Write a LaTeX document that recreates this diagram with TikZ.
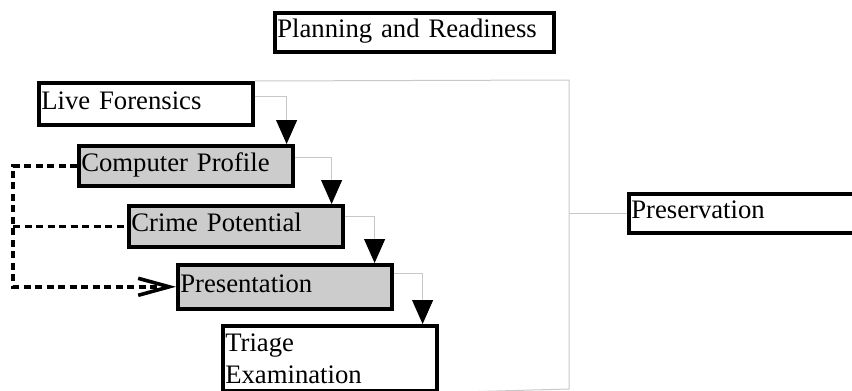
\documentclass[tikz,border=0pt]{standalone}
\usepackage{fontspec}
\setmainfont{Liberation Serif}
\usetikzlibrary{arrows.meta}
\definecolor{boxgray}{RGB}{204,204,204}
\definecolor{linegray}{RGB}{200,200,200}
\begin{document}
\begin{tikzpicture}[x=1pt,y=-1pt,
  boxbase/.style={draw, line width=3.6pt, anchor=north west, inner xsep=2.5pt, inner ysep=0pt,
    text width=209pt, align=left, minimum height=#1,
    font=\fontsize{26.7pt}{32pt}\selectfont},
  oneline/.style={boxbase=#1, text height=19pt, text depth=8pt},
  shaded/.style={fill=boxgray},
  conn/.style={draw=linegray, line width=1pt},
  flow/.style={conn, -{Triangle[width=21pt,length=24pt,color=black]}},
  dashline/.style={draw=black, line width=3.6pt, dash pattern=on 7pt off 4.5pt}
]
\useasboundingbox (0,0) rectangle (852,391);

\node[oneline=39pt, text width=274pt] (PR) at (273,11) {Planning and Readiness};
\node[oneline=42pt] (LF) at (37,81) {Live Forensics};
\node[oneline=40pt, shaded] (CP) at (77,144) {Computer Profile};
\node[oneline=41pt, shaded] (CrP) at (127,204) {Crime Potential};
\node[oneline=44pt, shaded] (Pr) at (176,263) {Presentation};
\node[boxbase=65pt] (TE) at (221,324) {Triage\\Examination};
\node[oneline=39pt, text width=240pt] (Pres) at (627,192) {Preservation};

% flow connectors
\draw[flow] ([yshift=-15pt]LF.north east) -| ([xshift=-8pt]CP.north east);
\draw[flow] ([yshift=-13pt]CP.north east) -| ([xshift=-13pt]CrP.north east);
\draw[flow] ([yshift=-12pt]CrP.north east) -| ([xshift=-19pt]Pr.north east);
\draw[flow] ([yshift=-10pt]Pr.north east) -| ([xshift=-16pt]TE.north east);

% bracket to Preservation
\coordinate (bt) at (569,80);
\coordinate (bb) at (569,389);
\draw[conn] (LF.north east) -- (bt) -- (bb) -- (TE.south east);
\draw[conn] (bt |- Pres.west) -- (Pres.west);

% dashed feedback
\coordinate (dl) at (13,0);
\draw[dashline, -{Straight Barb[length=31pt,width=17pt,line width=3.6pt]}]
  (CP.west) -| (dl |- Pr.west) -- (Pr.west);
\draw[dashline] (dl |- CrP.west) -- (CrP.west);
\end{tikzpicture}
\end{document}
